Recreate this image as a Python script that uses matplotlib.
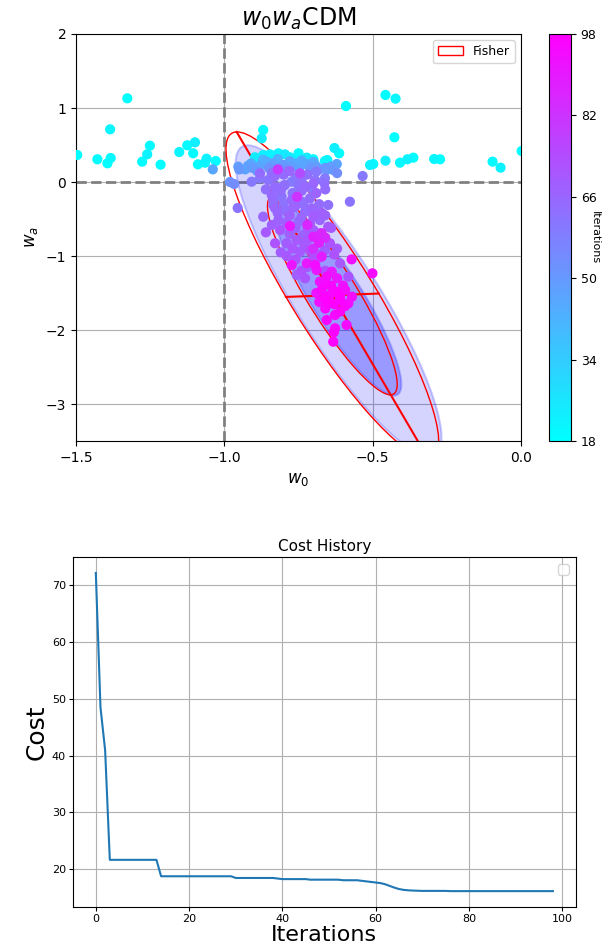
import numpy as np
import matplotlib
matplotlib.use("Agg")
import matplotlib.pyplot as plt
from matplotlib.patches import Ellipse

# samples: (w0, wa, iteration)
cyan_pts = [(-1.496, 0.365, 18), (-1.428, 0.307, 19), (-1.394, 0.253, 18), (-1.383, 0.324, 20),
            (-1.385, 0.712, 21), (-1.327, 1.131, 18), (-1.277, 0.275, 19), (-1.26, 0.374, 22),
            (-1.251, 0.491, 20), (-1.215, 0.234, 18), (-1.152, 0.405, 21), (-1.125, 0.496, 19),
            (-1.099, 0.536, 23), (-1.105, 0.388, 20), (-1.089, 0.239, 18), (-1.06, 0.315, 22),
            (-1.029, 0.284, 19), (-1.065, 0.261, 21), (-0.869, 0.703, 20), (-0.874, 0.59, 24),
            (-0.75, 0.388, 19), (-0.722, 0.329, 22), (-0.70, 0.307, 18), (-0.661, 0.284, 21),
            (-0.653, 0.297, 20), (-0.629, 0.459, 23), (-0.613, 0.388, 19), (-0.59, 1.027, 18),
            (-0.509, 0.23, 22), (-0.498, 0.243, 20), (-0.457, 1.176, 19), (-0.423, 1.126, 21),
            (-0.427, 0.604, 18), (-0.457, 0.288, 23), (-0.408, 0.261, 20), (-0.383, 0.307, 22),
            (-0.363, 0.329, 19), (-0.293, 0.311, 21), (-0.273, 0.307, 18), (-0.096, 0.275, 20),
            (-0.069, 0.194, 22), (0.002, 0.419, 19), (-0.897, 0.334, 24), (-0.869, 0.365, 23),
            (-0.846, 0.374, 22), (-0.796, 0.374, 25), (-0.779, 0.334, 24), (-0.768, 0.297, 23),
            (-0.818, 0.388, 22), (-0.697, 0.253, 26), (-0.722, 0.32, 25)]

blue_pts = [(-1.039, 0.171, 46), (-0.981, 0.0, 52), (-0.967, -0.027, 54), (-0.953, 0.207, 48),
            (-0.93, 0.171, 47), (-0.908, 0.194, 49), (-0.886, 0.207, 46), (-0.857, 0.275, 44),
            (-0.835, 0.253, 47), (-0.801, 0.23, 50), (-0.773, 0.207, 48), (-0.739, 0.23, 46),
            (-0.711, 0.185, 51), (-0.655, 0.162, 49), (-0.633, 0.162, 50), (-0.621, 0.243, 47),
            (-0.88, 0.22, 45), (-0.76, 0.25, 44), (-0.69, 0.21, 48), (-0.85, 0.19, 52),
            (-0.80, 0.16, 53), (-0.87, 0.30, 42), (-0.82, 0.31, 43), (-0.74, 0.29, 44),
            (-0.70, 0.27, 45), (-0.78, 0.28, 46), (-0.66, 0.19, 51), (-0.95, 0.17, 50),
            (-0.91, 0.25, 45), (-0.62, 0.12, 53), (-0.92, 0.22, 47), (-0.89, 0.15, 50),
            (-0.84, 0.21, 48), (-0.79, 0.20, 49), (-0.75, 0.18, 47), (-0.72, 0.24, 46),
            (-0.68, 0.17, 50), (-0.64, 0.21, 48)]

purple_pts = [(-0.955, -0.351, 62), (-0.908, 0.004, 60), (-0.88, 0.117, 64), (-0.745, 0.117, 74),
              (-0.694, 0.027, 62), (-0.661, 0.05, 60), (-0.663, -0.018, 63), (-0.728, -0.063, 65),
              (-0.706, -0.086, 61), (-0.796, -0.04, 63), (-0.773, 0.004, 59), (-0.852, 0.027, 62),
              (-0.829, -0.063, 64), (-0.577, -0.266, 62), (-0.534, 0.081, 60), (-0.869, -0.469, 66),
              (-0.835, -0.243, 63), (-0.807, -0.199, 61), (-0.773, -0.243, 65), (-0.739, -0.266, 62),
              (-0.711, -0.22, 64), (-0.829, -0.355, 66), (-0.796, -0.378, 63), (-0.762, -0.334, 67),
              (-0.728, -0.401, 64), (-0.70, -0.378, 66), (-0.672, -0.423, 68), (-0.65, -0.311, 63),
              (-0.818, -0.514, 67), (-0.75, -0.536, 65), (-0.711, -0.558, 69), (-0.678, -0.514, 66),
              (-0.65, -0.605, 70), (-0.835, -0.311, 64), (-0.801, -0.288, 62), (-0.768, -0.334, 66),
              (-0.734, -0.297, 63), (-0.706, -0.355, 65), (-0.86, -0.68, 70), (-0.84, -0.581, 68),
              (-0.812, -0.649, 71), (-0.829, -0.828, 72), (-0.79, -0.828, 69), (-0.756, -0.784, 70),
              (-0.734, -0.716, 67), (-0.706, -0.739, 69), (-0.678, -0.693, 71), (-0.644, -0.828, 72),
              (-0.745, -0.942, 70), (-0.711, -0.919, 73), (-0.678, -0.986, 71), (-0.661, -0.919, 69),
              (-0.61, -1.099, 70), (-0.582, -1.28, 72), (-0.756, -1.257, 68), (-0.728, -1.301, 71),
              (-0.84, 0.12, 62), (-0.80, 0.10, 64), (-0.76, 0.06, 61), (-0.72, 0.10, 63),
              (-0.69, 0.14, 60), (-0.78, 0.15, 66), (-0.83, 0.08, 65), (-0.74, 0.02, 63),
              (-0.70, -0.02, 66), (-0.81, -0.12, 64), (-0.77, -0.15, 62), (-0.74, -0.12, 65),
              (-0.69, -0.15, 67), (-0.66, -0.10, 64), (-0.78, -0.45, 68), (-0.74, -0.48, 66),
              (-0.70, -0.46, 69), (-0.72, -0.62, 70), (-0.78, -0.70, 68), (-0.76, -1.05, 72),
              (-0.72, -1.15, 70), (-0.66, -1.20, 73), (-0.70, -1.00, 74), (-0.62, -0.90, 70),
              (-0.86, -0.10, 63), (-0.84, -0.18, 65), (-0.82, -0.42, 66), (-0.79, -0.55, 68),
              (-0.76, -0.62, 67), (-0.73, -0.85, 70), (-0.70, -0.65, 69), (-0.68, -0.30, 64),
              (-0.66, -0.45, 67), (-0.64, -0.62, 70), (-0.63, -0.98, 72), (-0.69, -1.05, 71),
              (-0.74, -1.20, 72), (-0.79, -1.00, 70), (-0.81, -0.95, 69), (-0.77, -0.90, 71),
              (-0.72, -0.78, 70), (-0.80, -0.05, 61), (-0.88, 0.05, 60), (-0.75, -0.05, 62)]

magenta_pts = [(-0.82, 0.171, 80), (-0.779, -0.595, 90), (-0.70, -0.739, 88), (-0.681, -0.82, 88),
               (-0.672, -0.693, 86), (-0.773, -1.122, 92), (-0.722, -1.099, 90), (-0.694, -1.122, 94),
               (-0.689, -1.189, 91), (-0.672, -1.009, 89), (-0.571, -1.045, 93), (-0.501, -1.234, 95),
               (-0.678, -1.347, 92), (-0.655, -1.28, 94), (-0.638, -1.212, 90), (-0.672, -1.459, 96),
               (-0.644, -1.527, 95), (-0.621, -1.482, 97), (-0.61, -1.595, 96), (-0.593, -1.459, 94),
               (-0.582, -1.639, 93), (-0.661, -1.572, 97), (-0.65, -1.639, 98), (-0.655, -1.865, 96),
               (-0.627, -1.797, 95), (-0.627, -1.977, 97), (-0.588, -1.932, 94), (-0.633, -2.158, 98),
               (-0.593, -1.676, 96), (-0.66, -1.71, 95), (-0.631, -2.03, 97), (-0.60, -1.40, 92),
               (-0.64, -1.40, 96), (-0.62, -1.30, 91), (-0.61, -1.55, 98), (-0.68, -1.62, 93),
               (-0.70, -0.90, 84), (-0.755, -0.20, 82), (-0.72, -0.58, 86), (-0.66, -0.75, 85),
               (-0.66, -1.38, 95), (-0.63, -1.65, 97), (-0.61, -1.75, 96), (-0.69, -1.50, 92),
               (-0.57, -1.55, 94)]

# Fisher forecast and sample covariance
fisher_center = (-0.636, -1.53)
fisher_cov = [[0.0208, -0.1146], [-0.1146, 0.788]]
sample_center = (-0.615, -1.605)
sample_cov = [[0.0195, -0.104], [-0.104, 0.715]]
chi_levels = [1.516, 2.486]  # 68% and 95% in 2D

cbar_ticks = [18, 34, 50, 66, 82, 98]

cost = [72.2, 48.5, 40.9,
        21.6, 21.6, 21.6, 21.6, 21.6, 21.6, 21.6, 21.6, 21.6, 21.6, 21.6,
        18.7, 18.7, 18.7, 18.7, 18.7, 18.7, 18.7, 18.7, 18.7, 18.7, 18.7, 18.7, 18.7, 18.7, 18.7, 18.7,
        18.4, 18.4, 18.4, 18.4, 18.4, 18.4, 18.4, 18.4, 18.4, 18.3,
        18.2, 18.2, 18.2, 18.2, 18.2, 18.2,
        18.1, 18.1, 18.1, 18.1, 18.1, 18.1, 18.1,
        18.0, 18.0, 18.0, 18.0, 17.9, 17.8, 17.7, 17.6, 17.5, 17.3, 17.0, 16.7, 16.45,
        16.3, 16.22, 16.18, 16.15,
        16.12, 16.12, 16.12, 16.12, 16.12, 16.12,
        16.08, 16.08, 16.08, 16.08, 16.08, 16.08, 16.08, 16.08, 16.08, 16.08, 16.08, 16.08,
        16.08, 16.08, 16.08, 16.08, 16.08, 16.08, 16.08, 16.08, 16.08, 16.08, 16.08]


def eig_sorted(cov):
    vals, vecs = np.linalg.eigh(np.array(cov))
    order = vals.argsort()[::-1]
    return vals[order], vecs[:, order]


def add_ellipse(ax, center, cov, k, **kw):
    vals, vecs = eig_sorted(cov)
    angle = np.degrees(np.arctan2(vecs[1, 0], vecs[0, 0]))
    e = Ellipse(center, 2 * k * np.sqrt(vals[0]), 2 * k * np.sqrt(vals[1]), angle=angle, **kw)
    ax.add_patch(e)
    return e


fig = plt.figure(figsize=(6.08, 9.47), dpi=100)
ax = fig.add_axes([0.125, 0.5343, 0.732, 0.4298])
cax = fig.add_axes([0.903, 0.5343, 0.036, 0.4298])
ax2 = fig.add_axes([0.12, 0.0422, 0.827, 0.3696])

# sample ellipses (filled)
add_ellipse(ax, sample_center, sample_cov, chi_levels[1], facecolor=(0, 0, 1, 0.17),
            edgecolor=(0, 0, 1, 0.2), lw=1.5, zorder=2)
add_ellipse(ax, sample_center, sample_cov, chi_levels[0], facecolor=(0, 0, 1, 0.28),
            edgecolor=(0, 0, 1, 0.2), lw=1.5, zorder=2)

# Fisher ellipses and axes
outer = add_ellipse(ax, fisher_center, fisher_cov, chi_levels[1], facecolor='none',
                    edgecolor='red', lw=1, zorder=3, label='Fisher')
add_ellipse(ax, fisher_center, fisher_cov, chi_levels[0], facecolor='none',
            edgecolor='red', lw=1, zorder=3)
vals, vecs = eig_sorted(fisher_cov)
c = np.array(fisher_center)
for i in range(2):
    d = chi_levels[1] * np.sqrt(vals[i]) * vecs[:, i]
    ax.plot([c[0] - d[0], c[0] + d[0]], [c[1] - d[1], c[1] + d[1]], color='red', lw=1.5, zorder=3)

pts = sorted(cyan_pts + blue_pts + purple_pts + magenta_pts, key=lambda p: p[2])
w0 = [p[0] for p in pts]
wa = [p[1] for p in pts]
it = [p[2] for p in pts]
sc = ax.scatter(w0, wa, c=it, cmap='cool', vmin=18, vmax=98, s=40, zorder=4)

ax.axvline(-1, color='gray', ls='--', lw=2, zorder=1.5)
ax.axhline(0, color='gray', ls='--', lw=2, zorder=1.5)
ax.set_xlim(-1.5, 0.0)
ax.set_ylim(-3.5, 2)
ax.set_xticks([-1.5, -1.0, -0.5, 0.0])
ax.grid(True, zorder=0)
ax.set_axisbelow(True)
ax.set_title(r'$w_0w_a$CDM', fontsize=17)
ax.set_xlabel(r'$w_0$', fontsize=12)
ax.set_ylabel(r'$w_a$', fontsize=12)
ax.legend(handles=[outer], loc='upper right', fontsize=9)

cb = fig.colorbar(sc, cax=cax, ticks=cbar_ticks)
cb.set_label('Iterations', rotation=270, labelpad=2, fontsize=8)
cb.ax.tick_params(labelsize=9)

ax2.plot(range(len(cost)), cost, color='C0', lw=1.5)
ax2.set_title('Cost History', fontsize=11, pad=4)
ax2.tick_params(labelsize=8, pad=2, length=3)
ax2.set_xlabel('Iterations', fontsize=16, labelpad=1)
ax2.set_ylabel('Cost', fontsize=18, labelpad=2)
ax2.grid(True)
ax2.legend()

fig.savefig('out.png', dpi=100)
